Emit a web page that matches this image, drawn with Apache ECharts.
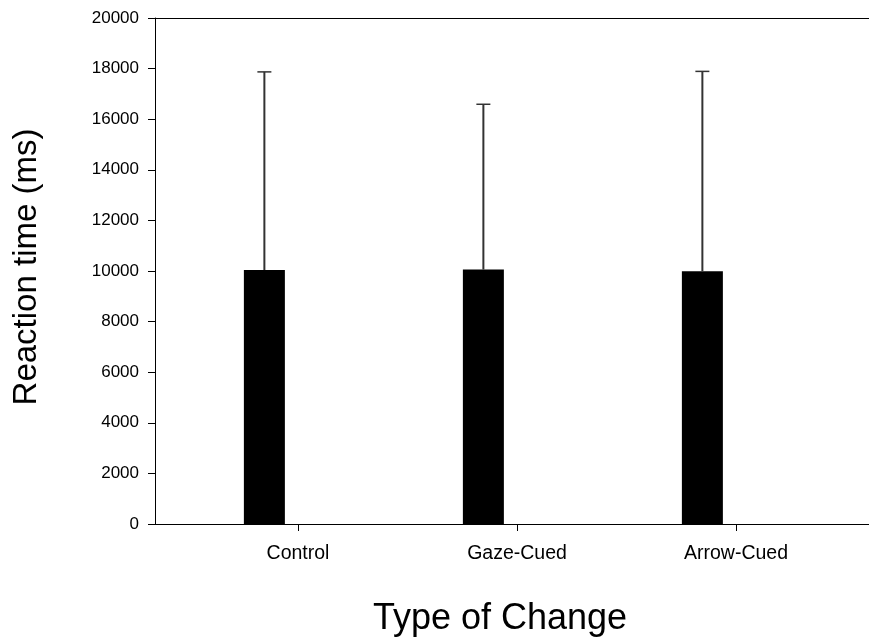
<!DOCTYPE html>
<html>
<head>
<meta charset="utf-8">
<script src="https://cdn.jsdelivr.net/npm/echarts@6/dist/echarts.min.js"></script>
<style>
html,body{margin:0;padding:0;background:#fff;}
#chart{width:869px;height:641px;}
</style>
</head>
<body>
<div id="chart"></div>
<script>
// ---- data ----
const categories = ['Control', 'Gaze-Cued', 'Arrow-Cued'];
const meanRT = [10040, 10055, 9990];
const errRT = [7830, 6535, 7900];
const yMin = 0, yMax = 20000, yStep = 2000;

// ---- style ----
const FONT = "'Liberation Sans', Arial, sans-serif";
const BAR_W = 41;
const BAR_GAP = 0.64;

const chart = echarts.init(document.getElementById('chart'), null, {renderer: 'canvas'});
const errData = categories.map((c, i) => [i, meanRT[i], meanRT[i] + errRT[i]]);

const option = {
  animation: false,
  backgroundColor: '#fff',
  textStyle: {fontFamily: FONT, color: '#000'},
  grid: [
    {left: 155, right: 0, top: 18, bottom: 117, containLabel: false, outerBoundsMode: 'none'},
    {left: 188.5, right: 23.5, top: 18, bottom: 117, containLabel: false, outerBoundsMode: 'none'}
  ],
  xAxis: [
    {type: 'value', gridIndex: 0, min: 0, max: 1,
     axisLine: {show: true, lineStyle: {color: '#000', width: 1}},
     axisTick: {show: false}, axisLabel: {show: false}, splitLine: {show: false},
     name: 'Type of Change', nameLocation: 'middle', nameGap: 77,
     nameTextStyle: {fontSize: 36, fontFamily: FONT, color: '#000', padding: [0, 24, 0, 0]}},
    {type: 'value', gridIndex: 0, position: 'top', min: 0, max: 1,
     axisLine: {show: true, lineStyle: {color: '#000', width: 1}},
     axisTick: {show: false}, axisLabel: {show: false}, splitLine: {show: false}},
    {type: 'category', gridIndex: 1, data: categories,
     axisLine: {show: false},
     axisTick: {show: true, alignWithLabel: true, length: 7, lineStyle: {color: '#000'}},
     axisLabel: {fontSize: 19.5, margin: 20, color: '#000', fontFamily: FONT},
     splitLine: {show: false}}
  ],
  yAxis: [
    {type: 'value', gridIndex: 0, min: yMin, max: yMax, interval: yStep,
     axisLine: {show: true, lineStyle: {color: '#000', width: 1}},
     axisTick: {show: true, length: 7, lineStyle: {color: '#000'}},
     axisLabel: {fontSize: 17, margin: 16, color: '#000', fontFamily: FONT,
                 formatter: function (v) { return String(v); }},
     splitLine: {show: false},
     name: 'Reaction time (ms)', nameLocation: 'middle', nameGap: 112,
     nameTextStyle: {fontSize: 33, fontFamily: FONT, color: '#000', padding: [0, 0, 0, 8]}},
    {type: 'value', gridIndex: 1, min: yMin, max: yMax, show: false}
  ],
  series: [
    {type: 'bar', xAxisIndex: 2, yAxisIndex: 1, data: meanRT,
     barWidth: BAR_W, barGap: (BAR_GAP * 100) + '%',
     itemStyle: {color: '#000'}},
    {type: 'bar', xAxisIndex: 2, yAxisIndex: 1, data: categories.map(() => '-'),
     barWidth: BAR_W, itemStyle: {color: '#000'}},
    {type: 'custom', xAxisIndex: 2, yAxisIndex: 1, data: errData, z: 5,
     renderItem: function (params, api) {
       const base = api.coord([api.value(0), api.value(1)]);
       const top = api.coord([api.value(0), api.value(2)]);
       const off = -(BAR_W + BAR_W * BAR_GAP) / 2;
       const x = base[0] + off;
       return {type: 'group', children: [
         {type: 'line', shape: {x1: x, y1: base[1], x2: x, y2: top[1]},
          style: {stroke: '#333', lineWidth: 2}},
         {type: 'line', shape: {x1: x - 7, y1: top[1], x2: x + 7, y2: top[1]},
          style: {stroke: '#333', lineWidth: 1.5}}
       ]};
     }}
  ]
};
chart.setOption(option);
</script>
</body>
</html>
